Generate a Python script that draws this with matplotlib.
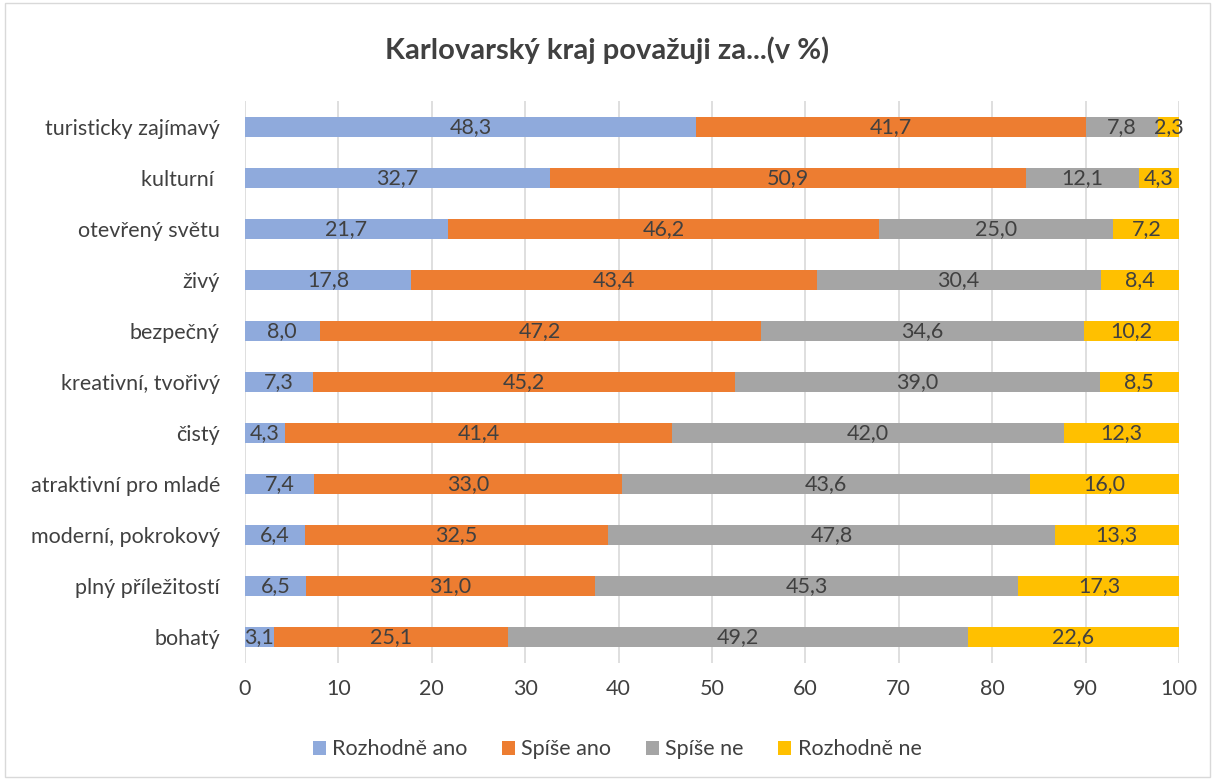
import numpy as np
import matplotlib.pyplot as plt
from matplotlib.patches import Rectangle

categories = ["bohatý", "plný příležitostí", "moderní, pokrokový", "atraktivní pro mladé",
              "čistý", "kreativní, tvořivý", "bezpečný", "živý", "otevřený světu",
              "kulturní ", "turisticky zajímavý"]
rozhodne_ano = [3.1, 6.5, 6.4, 7.4, 4.3, 7.3, 8.0, 17.8, 21.7, 32.7, 48.3]
spise_ano = [25.1, 31.0, 32.5, 33.0, 41.4, 45.2, 47.2, 43.4, 46.2, 50.9, 41.7]
spise_ne = [49.2, 45.3, 47.8, 43.6, 42.0, 39.0, 34.6, 30.4, 25.0, 12.1, 7.8]
rozhodne_ne = [22.6, 17.3, 13.3, 16.0, 12.3, 8.5, 10.2, 8.4, 7.2, 4.3, 2.3]

series = [("Rozhodně ano", rozhodne_ano, "#8faadc"),
          ("Spíše ano", spise_ano, "#ed7d31"),
          ("Spíše ne", spise_ne, "#a5a5a5"),
          ("Rozhodně ne", rozhodne_ne, "#ffc000")]

plt.rcParams['font.family'] = ['Lato', 'DejaVu Sans']
text_col = "#404040"

fig = plt.figure(figsize=(12.15, 7.8), dpi=100)
ax = fig.add_axes([0.2016, 0.1506, 0.7688, 0.7193])

y = np.arange(len(categories))
left = np.zeros(len(categories))
for name, vals, col in series:
    vals = np.array(vals)
    ax.barh(y, vals, left=left, height=0.4, color=col, label=name, zorder=3)
    for yi, l, v in zip(y, left, vals):
        ax.text(l + v / 2, yi, f"{v:.1f}".replace(".", ","), ha="center", va="center",
                fontsize=15.5, color=text_col, zorder=4)
    left += vals

ax.set_xlim(0, 100)
ax.set_ylim(-0.5, len(categories) - 0.5)
ax.set_xticks(range(0, 101, 10))
ax.set_yticks(y)
ax.set_yticklabels(categories)
ax.tick_params(axis="both", length=0, labelsize=15.5, colors=text_col)
ax.tick_params(axis="x", pad=12)
ax.tick_params(axis="y", pad=18)
ax.grid(axis="x", color="#d9d9d9", linewidth=1.2, zorder=0)
for s in ax.spines.values():
    s.set_visible(False)

fig.text(0.5, 0.935, "Karlovarský kraj považuji za...(v %)", ha="center", va="center",
         fontsize=21, fontweight="bold", color=text_col)

# legend centred on the figure, not the axes
ax.legend(loc="center", bbox_to_anchor=((0.508 - 0.2016) / 0.7688, -0.155),
          ncol=4, frameon=False, fontsize=15.5, handlelength=0.6, handleheight=0.6,
          handletextpad=0.3, columnspacing=1.6, labelcolor=text_col)

fig.patches.append(Rectangle((0.004, 0.004), 0.992, 0.992, transform=fig.transFigure,
                             fill=False, edgecolor="#d9d9d9", linewidth=1))

fig.savefig("out.png", dpi=100)
